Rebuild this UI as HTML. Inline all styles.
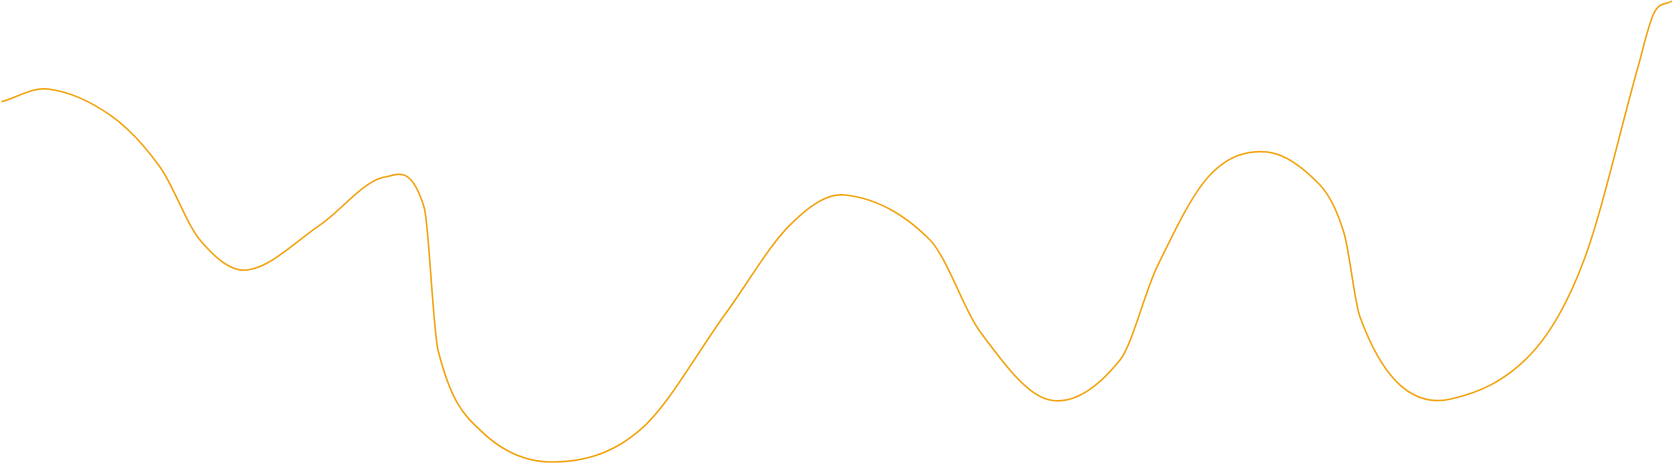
<!DOCTYPE html>
<html><head><meta charset="utf-8"><style>
html,body{margin:0;padding:0;background:#fff;width:1674px;height:463px;overflow:hidden}
svg{display:block}
</style></head><body>
<svg id="chart" width="1674" height="463" viewBox="0 0 1674 463" xmlns="http://www.w3.org/2000/svg"></svg>
<script>
const xValues = [1.6, 48, 110, 160, 200, 247, 320, 385, 424, 438, 480, 552, 640, 726, 790, 845, 930, 981, 1050, 1120, 1157, 1210, 1267, 1320, 1344, 1360, 1400, 1451, 1530, 1584, 1638, 1654, 1672];
const yValues = [101.7, 89, 115, 167, 240, 270, 225, 177, 207, 350, 430, 462, 430, 313, 225, 195, 240, 333, 400, 360, 267, 175, 152, 185, 233, 317, 385, 399, 355, 260, 67, 13, 1];
const xDomain = [0, 1674];
const yDomain = [0, 463];
function xScale(v){ return (v - xDomain[0]) / (xDomain[1] - xDomain[0]) * 1674; }
function yScale(v){ return (v - yDomain[0]) / (yDomain[1] - yDomain[0]) * 463; }
const px = xValues.map(xScale), py = yValues.map(yScale);
const n = px.length;
const m = [];
for (let i=0;i<n;i++){
  const a = Math.max(0,i-1), b = Math.min(n-1,i+1);
  m[i] = (py[b]-py[a])/(px[b]-px[a]);
}
let d = 'M' + px[0] + ',' + py[0];
for (let i=0;i<n-1;i++){
  const h=(px[i+1]-px[i])/3;
  d += ' C'+(px[i]+h)+','+(py[i]+m[i]*h)+' '+(px[i+1]-h)+','+(py[i+1]-m[i+1]*h)+' '+px[i+1]+','+py[i+1];
}
const path = document.createElementNS('http://www.w3.org/2000/svg','path');
path.setAttribute('d', d);
path.setAttribute('fill','none');
path.setAttribute('stroke','#f2a20c');
path.setAttribute('stroke-width','1.6');


document.getElementById('chart').appendChild(path);
</script>
</body></html>
